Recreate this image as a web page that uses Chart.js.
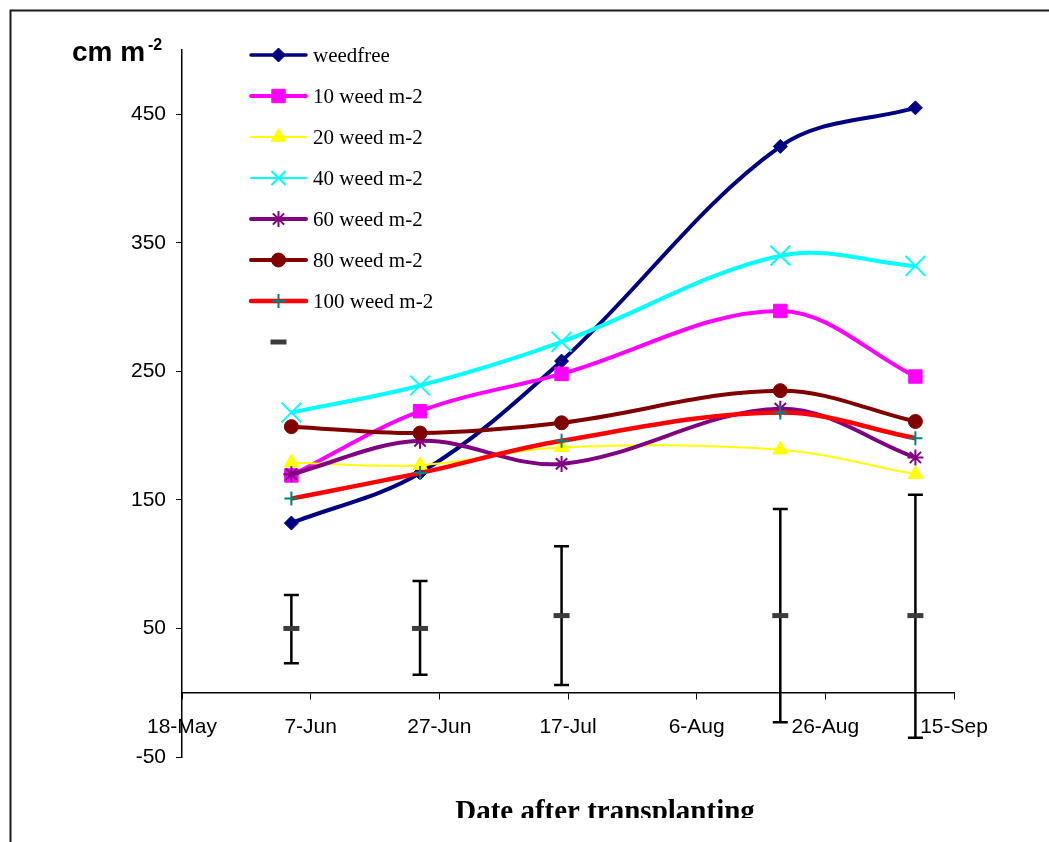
<!DOCTYPE html>
<html>
<head>
<meta charset="utf-8">
<script src="https://cdn.jsdelivr.net/npm/chart.js@4.4.0/dist/chart.umd.min.js"></script>
<style>
  body { margin: 0; background: #fff; }
  canvas { display: block; }
</style>
</head>
<body>
<canvas id="chart" width="1049" height="842"></canvas>
<script>
// sampling dates, as days after 18-May
const days = [17, 37, 59, 93, 114];
const xTickLabels = ['18-May', '7-Jun', '27-Jun', '17-Jul', '6-Aug', '26-Aug', '15-Sep'];
const yTicks = [-50, 50, 150, 250, 350, 450];

const weedfree = [132, 171, 258, 425, 455];
const weed10 = [169, 219, 248, 297, 246];
const weed20 = [179, 177, 191, 189, 170];
const weed40 = [218, 239, 273, 340, 332];
const weed60 = [170, 196, 178, 221, 183];
const weed80 = [207, 202, 210, 235, 211];
const weed100 = [151, 171, 196, 218, 198];

// LSD-type bars
const errMean = [50, 50, 60, 60, 60];
const errLow = [23, 14, 6, -23, -35];
const errHigh = [76, 87, 114, 143, 154];

function pts(values) {
    return values.map((v, i) => ({x: days[i], y: v}));
}

function lineSet(label, values, color, width, style, radius, extra) {
    return Object.assign({
        label: label,
        data: pts(values),
        borderColor: color,
        backgroundColor: color,
        borderWidth: width,
        pointStyle: style,
        pointRadius: radius,
        pointBackgroundColor: color,
        pointBorderColor: color,
        pointBorderWidth: 1,
        tension: 0.35,
        fill: false
    }, extra || {});
}

const datasets = [
    lineSet('weedfree', weedfree, '#000080', 4, 'rectRot', 7, {legendWidth: 3.5}),
    lineSet('10 weed m-2', weed10, '#FF00FF', 4, 'rect', 9.5),
    lineSet('20 weed m-2', weed20, '#FFFF00', 2, 'triangle', 8.5),
    lineSet('40 weed m-2', weed40, '#00FFFF', 4, 'crossRot', 14, {pointBorderWidth: 2, legendWidth: 2, legendRadius: 10}),
    lineSet('60 weed m-2', weed60, '#800080', 4, 'star', 8, {pointBorderWidth: 2}),
    lineSet('80 weed m-2', weed80, '#800000', 4, 'circle', 7),
    lineSet('100 weed m-2', weed100, '#FF0000', 4.5, 'cross', 7, {pointBorderColor: '#008080', pointBorderWidth: 2}),
    lineSet('', errMean, '#3c3c3c', 5, 'line', 8, {showLine: false, pointBorderWidth: 5})
];
datasets.forEach((ds, i) => ds.order = datasets.length - i);

/**
 * Outer frame and axis titles.
 */
const framePlugin = {
    id: 'frame',
    afterDraw(chart) {
        const ctx = chart.ctx;
        ctx.save();
        ctx.strokeStyle = '#1a1a1a';
        ctx.lineWidth = 2;
        ctx.beginPath();
        ctx.moveTo(10.5, 842);
        ctx.lineTo(10.5, 10.5);
        ctx.lineTo(1049, 10.5);
        ctx.stroke();

        ctx.fillStyle = '#000';
        ctx.textBaseline = 'alphabetic';
        ctx.font = 'bold 28px "Liberation Sans"';
        ctx.fillText('cm m', 72, 61);
        ctx.font = 'bold 16px "Liberation Sans"';
        ctx.fillText('-2', 148, 50);

        ctx.beginPath();
        ctx.rect(0, 0, 1049, 818);
        ctx.clip();
        ctx.font = 'bold 29px "Liberation Serif"';
        ctx.textAlign = 'center';
        ctx.fillText('Date after transplanting', 605, 820);
        ctx.restore();
    }
};

/**
 * Vertical bars drawn behind the mean marks.
 */
const errorBarPlugin = {
    id: 'errorBars',
    beforeDatasetsDraw(chart) {
        const {ctx, scales: {x, y}} = chart;
        ctx.save();
        ctx.strokeStyle = '#000';
        ctx.lineWidth = 2.5;
        days.forEach((d, i) => {
            const px = x.getPixelForValue(d);
            const top = y.getPixelForValue(errHigh[i]);
            const bot = y.getPixelForValue(errLow[i]);
            ctx.beginPath();
            ctx.moveTo(px, top);
            ctx.lineTo(px, bot);
            ctx.moveTo(px - 7.5, top);
            ctx.lineTo(px + 7.5, top);
            ctx.moveTo(px - 7.5, bot);
            ctx.lineTo(px + 7.5, bot);
            ctx.stroke();
        });
        ctx.restore();
    }
};

/**
 * Legend stacked at the upper left of the plot.
 */
const legendPlugin = {
    id: 'sideLegend',
    afterDraw(chart) {
        const ctx = chart.ctx;
        ctx.save();
        chart.data.datasets.forEach((ds, i) => {
            const y = 55 + i * 41;
            if (ds.showLine !== false) {
                ctx.strokeStyle = ds.borderColor;
                ctx.lineWidth = ds.legendWidth || ds.borderWidth;
                ctx.lineCap = 'round';
                ctx.beginPath();
                ctx.moveTo(251, y);
                ctx.lineTo(306, y);
                ctx.stroke();
            }
            ctx.fillStyle = ds.pointBackgroundColor;
            ctx.strokeStyle = ds.pointBorderColor;
            ctx.lineWidth = ds.pointBorderWidth;
            ctx.lineCap = 'butt';
            Chart.helpers.drawPoint(ctx, {
                pointStyle: ds.pointStyle,
                radius: ds.legendRadius || ds.pointRadius,
                rotation: 0,
                borderWidth: ds.pointBorderWidth
            }, 278.5, y);
            if (ds.label) {
                ctx.fillStyle = '#000';
                ctx.font = '21px "Liberation Serif"';
                ctx.textBaseline = 'middle';
                ctx.fillText(ds.label, 313, y + 1);
            }
        });
        ctx.restore();
    }
};

const tickFont = {family: 'Liberation Sans', size: 21};

new Chart(document.getElementById('chart'), {
    type: 'line',
    data: {datasets: datasets},
    options: {
        responsive: false,
        animation: false,
        layout: {padding: {left: 0, top: 50, right: 95, bottom: 85}},
        plugins: {
            legend: {display: false},
            tooltip: {enabled: false}
        },
        scales: {
            x: {
                type: 'linear',
                min: 0,
                max: 120,
                position: {y: 0},
                grid: {drawOnChartArea: false, tickLength: 6, color: '#000', lineWidth: 1},
                border: {color: '#000', width: 1.5},
                ticks: {
                    stepSize: 20,
                    autoSkip: false,
                    maxRotation: 0,
                    padding: 16,
                    color: '#000',
                    font: tickFont,
                    callback: v => xTickLabels[Math.round(v / 20)]
                }
            },
            y: {
                min: -50,
                max: 500,
                afterBuildTicks: scale => { scale.ticks = yTicks.map(v => ({value: v})); },
                afterFit: scale => { scale.width = 182; },
                grid: {drawOnChartArea: false, tickLength: 6, color: '#000', lineWidth: 1},
                border: {color: '#000', width: 1.5},
                ticks: {padding: 10, color: '#000', font: tickFont}
            }
        }
    },
    plugins: [errorBarPlugin, framePlugin, legendPlugin]
});
</script>
</body>
</html>
